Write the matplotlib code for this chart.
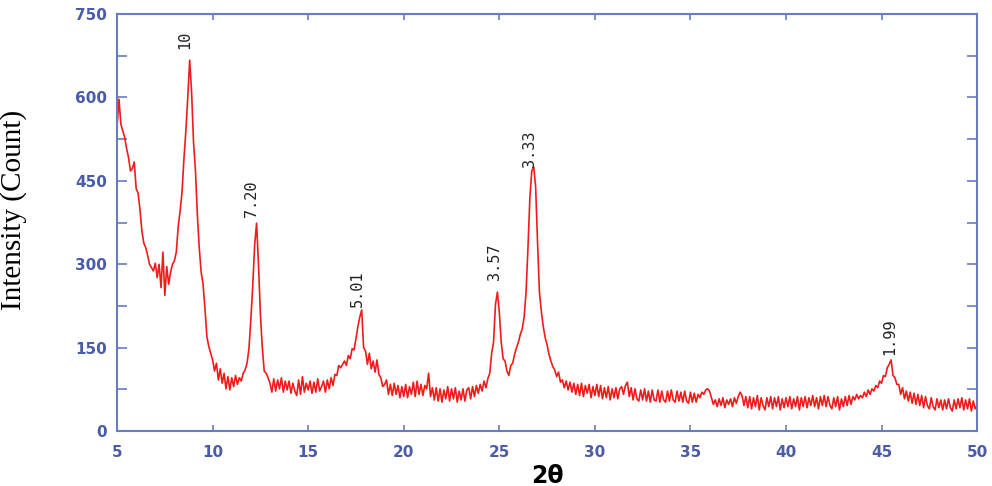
import numpy as np
import matplotlib.pyplot as plt

# XRD pattern, 0.1 degree steps from 5 to 50
counts = [
    548, 597, 552, 540, 528, 508, 492, 468, 472, 484,   # 5
    436, 428, 398, 360, 338, 330, 316, 300, 294, 288,   # 6
    302, 276, 300, 258, 322, 244, 296, 264, 286, 300,   # 7
    306, 322, 368, 396, 430, 490, 540, 600, 667, 610,   # 8
    520, 470, 390, 330, 286, 264, 220, 170, 152, 140,   # 9
    128, 108, 122, 92, 112, 86, 104, 76, 98, 74,        # 10
    96, 80, 100, 84, 96, 90, 104, 110, 122, 148,        # 11
    200, 262, 335, 374, 300, 210, 150, 108, 104, 96,    # 12
    86, 70, 94, 72, 92, 76, 96, 70, 90, 74,             # 13
    90, 68, 86, 72, 64, 92, 66, 98, 70, 86,             # 14
    74, 90, 68, 88, 70, 94, 72, 80, 90, 70,             # 15
    92, 76, 96, 82, 102, 100, 118, 114, 120, 126,       # 16
    118, 136, 130, 148, 146, 166, 188, 205, 218, 150,   # 17
    144, 120, 140, 112, 126, 106, 128, 102, 96, 80,     # 18
    84, 92, 66, 84, 64, 86, 66, 82, 60, 80,             # 19
    62, 84, 60, 80, 66, 88, 62, 90, 66, 84,             # 20
    64, 82, 76, 104, 62, 78, 56, 78, 54, 76,            # 21
    52, 74, 58, 80, 54, 76, 58, 78, 52, 72,             # 22
    56, 76, 54, 74, 78, 58, 80, 62, 82, 68,             # 23
    84, 72, 90, 78, 94, 104, 140, 160, 228, 250,        # 24
    214, 160, 130, 126, 108, 100, 118, 122, 138, 150,   # 25
    160, 174, 184, 205, 250, 330, 420, 468, 475, 440,   # 26
    340, 250, 215, 188, 168, 155, 138, 126, 116, 110,   # 27
    98, 106, 88, 92, 78, 90, 74, 88, 70, 86,            # 28
    66, 84, 64, 86, 62, 82, 68, 84, 60, 80,             # 29
    64, 84, 62, 82, 58, 78, 60, 80, 56, 76,             # 30
    60, 78, 58, 76, 80, 66, 82, 88, 62, 78,             # 31
    56, 76, 58, 54, 74, 56, 76, 54, 72, 52,             # 32
    74, 56, 54, 74, 52, 72, 56, 52, 72, 54,             # 33
    74, 56, 52, 72, 54, 70, 52, 72, 54, 50,             # 34
    70, 52, 68, 52, 66, 60, 70, 66, 74, 76,             # 35
    72, 60, 48, 56, 44, 58, 46, 60, 42, 56,             # 36
    48, 58, 44, 60, 50, 62, 70, 64, 46, 62,             # 37
    42, 62, 40, 60, 44, 64, 38, 60, 46, 38,             # 38
    60, 44, 62, 40, 60, 44, 62, 38, 58, 42,             # 39
    60, 44, 62, 40, 58, 44, 62, 38, 60, 44,             # 40
    62, 42, 60, 46, 64, 44, 60, 40, 62, 46,             # 41
    64, 44, 62, 46, 40, 60, 44, 62, 38, 58,             # 42
    44, 62, 46, 64, 48, 62, 56, 66, 58, 64,             # 43
    60, 70, 62, 74, 66, 76, 72, 82, 78, 90,             # 44
    86, 100, 98, 114, 120, 128, 100, 96, 84, 84,        # 45
    66, 78, 58, 72, 54, 70, 50, 68, 48, 66,             # 46
    46, 64, 42, 62, 46, 40, 60, 44, 38, 58,             # 47
    42, 56, 38, 56, 40, 58, 42, 36, 56, 40,             # 48
    58, 42, 60, 38, 56, 40, 58, 36, 54, 40,             # 49
    46,                                                 # 50
]
two_theta = np.linspace(5, 50, len(counts))

# peak d-spacing labels
peak_pos = [8.56, 12.06, 17.6, 24.73, 26.6, 45.4]
peak_top = [688, 385, 223, 272, 475, 137]
peak_text = ['10', '7.20', '5.01', '3.57', '3.33', '1.99']

x_ticks = [5, 10, 15, 20, 25, 30, 35, 40, 45, 50]
y_ticks = [0, 75, 150, 225, 300, 375, 450, 525, 600, 675, 750]

axis_blue = '#6a7cc0'
label_blue = '#4a5ca8'

fig = plt.figure(figsize=(9.92, 4.86), dpi=100)
ax = fig.add_axes([0.118, 0.113, 0.867, 0.858])

ax.plot(two_theta, counts, color='#f01c1c', lw=1.2)

for x, y, s in zip(peak_pos, peak_top, peak_text):
    ax.text(x, y, s, rotation=90, ha='center', va='bottom',
            fontsize=11, family='DejaVu Sans Mono', color='#222222')

ax.set_xlim(5, 50)
ax.set_ylim(0, 750)
ax.set_xticks(x_ticks)
ax.set_xticklabels([str(t) for t in x_ticks])
ax.set_yticks(y_ticks)
ax.set_yticklabels([str(t) if t % 150 == 0 else '' for t in y_ticks])

for side in ax.spines.values():
    side.set_color(axis_blue)
    side.set_linewidth(1.5)

ax.tick_params(axis='x', direction='in', length=4, width=1.2, color=axis_blue,
               top=True, pad=10, labelsize=11, labelcolor=label_blue)
ax.tick_params(axis='y', direction='in', length=7, width=1.2, color=axis_blue,
               right=True, pad=7, labelsize=11, labelcolor=label_blue)
for lab in ax.get_xticklabels() + ax.get_yticklabels():
    lab.set_fontweight('bold')

ax.set_ylabel('Intensity (Count)', family='Liberation Serif', fontsize=21)
ax.yaxis.set_label_coords(-0.105, 0.53)
ax.set_xlabel('2θ', fontsize=17, fontweight='bold')
ax.xaxis.set_label_coords(0.5, -0.078)

fig.savefig('out.png', dpi=100)
